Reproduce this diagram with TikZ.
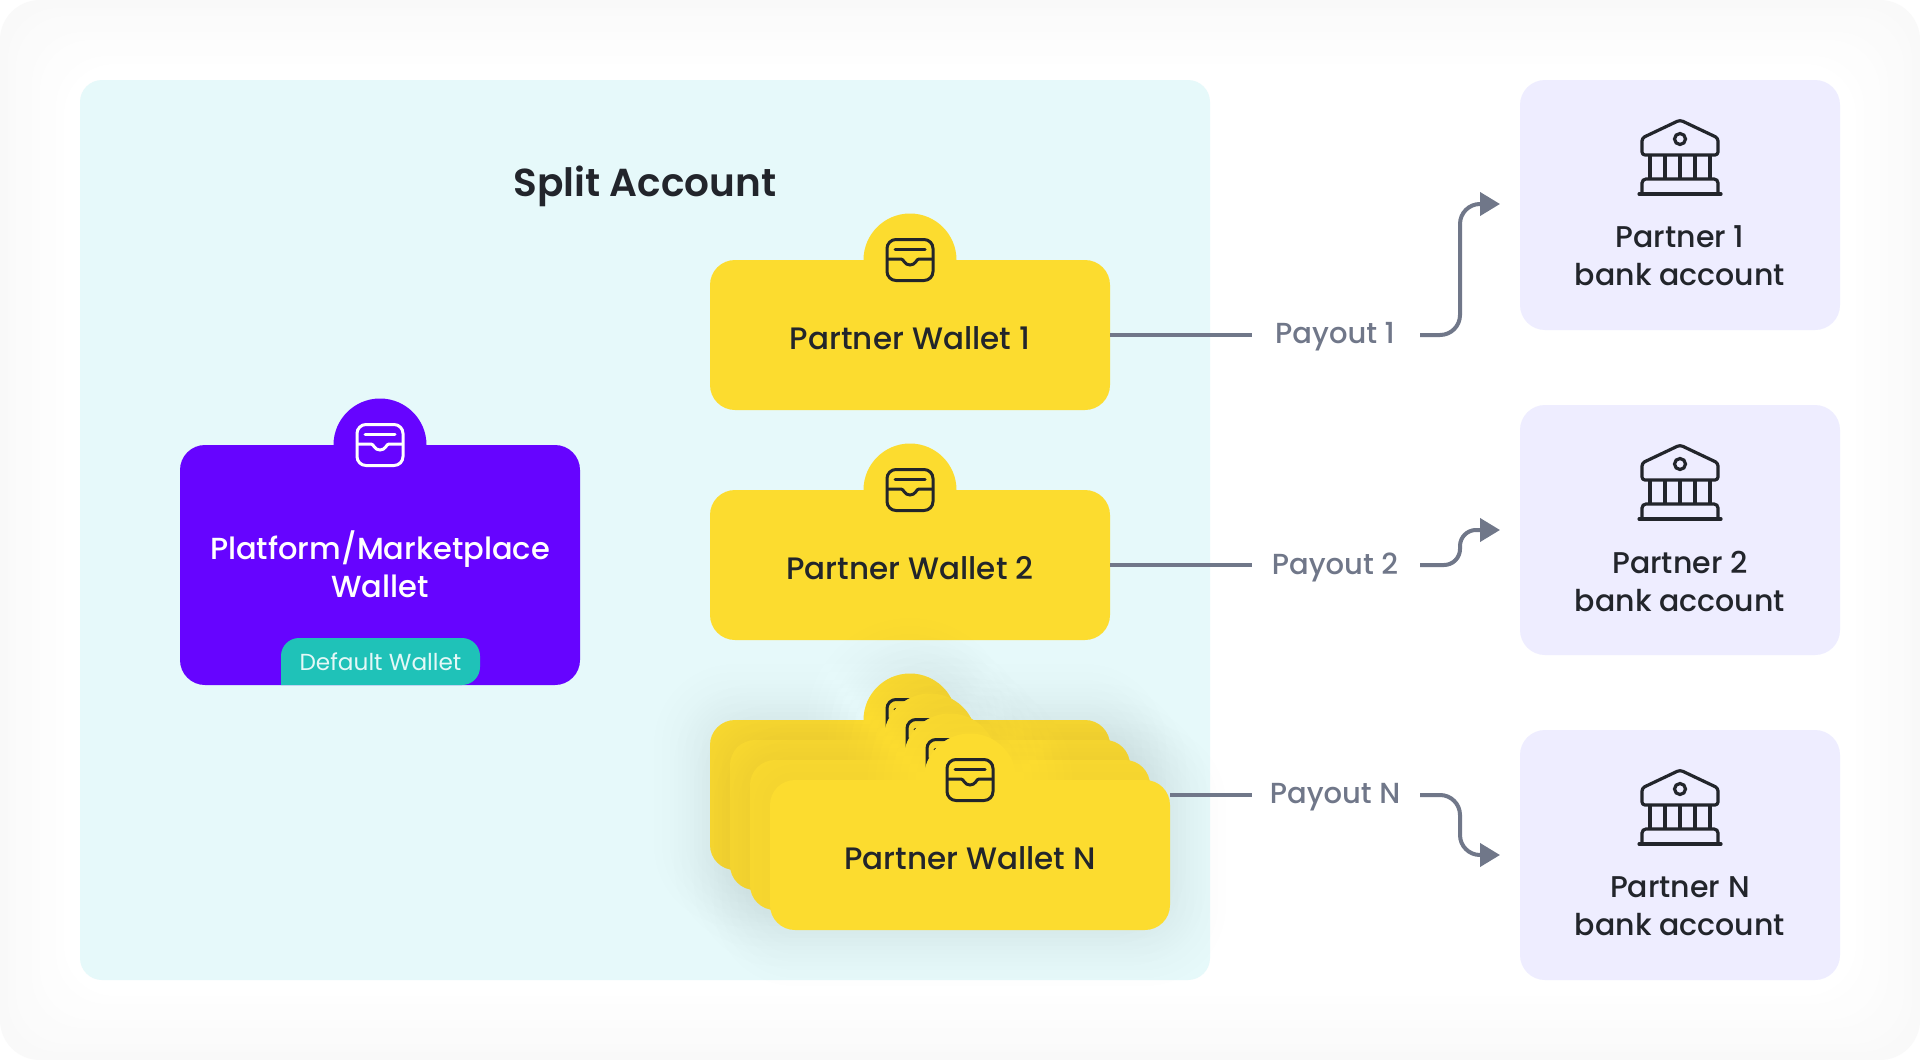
\documentclass[tikz,border=0pt]{standalone}
\usepackage{fontspec}
\setmainfont{Poppins}
\newfontfamily\medfont{Poppins Medium}
\newfontfamily\semifont{Poppins SemiBold}
\usetikzlibrary{positioning,arrows.meta,calc}
\definecolor{inkdark}{HTML}{22252B}
\definecolor{flowgray}{HTML}{707789}
\definecolor{paneltint}{HTML}{E6F9FA}
\definecolor{banktint}{HTML}{EEEDFF}
\definecolor{walletyellow}{HTML}{FCDC2F}
\definecolor{platformviolet}{HTML}{6604FF}
\definecolor{tagteal}{HTML}{1FC2B8}
\definecolor{glowslate}{HTML}{1E3A46}
\tikzset{
x=1pt,
y=-1pt,
wallet/.style={rectangle, rounded corners=25pt, fill=#1, minimum width=400pt, minimum height=150pt, inner sep=0pt},
wallet/.default=walletyellow,
bump/.style={circle, fill=#1, minimum size=93pt, inner sep=0pt},
bump/.default=walletyellow,
bank/.style={rectangle, rounded corners=25pt, fill=banktint, minimum width=320pt, minimum height=250pt},
banktext/.style={text=inkdark, align=center, font=\medfont\fontsize{30}{38}\selectfont},
wallettext/.style={text=inkdark, align=center, font=\medfont\fontsize{31}{38}\selectfont},
payout/.style={text=flowgray, font=\medfont\fontsize{29}{34}\selectfont, minimum width=168pt, inner sep=0pt},
flow/.style={draw=flowgray, line width=4pt},
flowin/.style={flow, -{Triangle[length=20pt,width=23pt]}},
walleticon/.pic={
    \draw[#1, line width=3pt, rounded corners=9pt] (-23,-20.5) rectangle (23,20.5);
    \draw[#1, line width=3pt, line cap=round] (-15,-10.5) -- (15,-10.5);
    \draw[#1, line width=3pt] (-23,-1) -- (-9,-1) .. controls (-6,-1) and (-6,5) .. (0,5) .. controls (6,5) and (6,-1) .. (9,-1) -- (23,-1);
},
bankicon/.pic={
    \draw[inkdark, line width=3.2pt, line join=round, rounded corners=3pt] (-38,-50) -- (-38,-67) -- (0,-85) -- (38,-67) -- (38,-50) -- cycle;
    \draw[inkdark, line width=3.2pt] (0,-66) circle (5.5);
    \foreach \colx in {-30,-15,0,15,30}
        \draw[inkdark, line width=3.2pt] (\colx,-50) -- (\colx,-26);
    \draw[inkdark, line width=3.2pt, rounded corners=4pt] (-38,-11) -- (-38,-26) -- (38,-26) -- (38,-11);
    \draw[inkdark, line width=3.2pt, line cap=round] (-41,-11) -- (41,-11);
},
}
% soft shadow of one wallet in the stack
\newcommand{\walletglow}[2]{
    \foreach \r in {8,16,...,56}
        \fill[glowslate, opacity=0.005, rounded corners=25pt+\r pt]
            (#1-200-\r,#2-75-\r) rectangle (#1+200+\r,#2+75+\r)
            (#1,#2-75) circle (46+\r);
}

\begin{document}
\begin{tikzpicture}
    \useasboundingbox (0,0) rectangle (1920,1060);

    % page background
    \fill[white] (0,0) rectangle (1920,1060);
    \fill[black!2.2, rounded corners=40pt] (0,0) rectangle (1920,1060);
    \foreach \inset/\tone in {8/1.9,16/1.6,24/1.4,32/1.1,40/0.9,48/0.6,56/0.3,64/0}
        \fill[black!\tone, rounded corners=50pt] (\inset,\inset) rectangle (1920-\inset,1060-\inset);

    \node[rectangle, rounded corners=22pt, fill=paneltint, minimum width=1130pt, minimum height=900pt] (split) at (645,530) {};
    \node[text=inkdark, font=\semifont\fontsize{39}{44}\selectfont] (splitlabel) at (645,186) {Split Account};

    % platform wallet
    \node[bump=platformviolet] (platformbump) at (380,445) {};
    \node[wallet=platformviolet, minimum height=240pt] (platform) at (380,565) {};
    \node[text=white, align=center, font=\medfont\fontsize{30.5}{38}\selectfont] (platformlabel) at (380,564) {Platform/Marketplace\\Wallet};
    \pic at (platformbump) {walleticon=white};
    \fill[tagteal, rounded corners=18pt] (281,685) -- (281,638) -- (480,638) -- (480,685) [sharp corners] -- cycle;
    \node[text=white!88!tagteal, font=\fontsize{23.2}{28}\selectfont] (defaulttag) at (380.5,662) {Default Wallet};

    % partner wallets
    \node[bump] (wallet1bump) at (910,260) {};
    \node[wallet] (wallet1) at (910,335) {};
    \node[wallettext] (wallet1label) at (910,338) {Partner Wallet 1};
    \pic at (wallet1bump) {walleticon=inkdark};

    \node[bump] (wallet2bump) at (910,490) {};
    \node[wallet] (wallet2) at (910,565) {};
    \node[wallettext] (wallet2label) at (910,568) {Partner Wallet 2};
    \pic at (wallet2bump) {walleticon=inkdark};

    \foreach \n/\x/\y in {a/910/795, b/930/815, c/950/835, d/970/855} {
        \walletglow{\x}{\y}
        \node[bump] (stack\n bump) at (\x,\y-75) {};
        \node[wallet] (stack\n) at (\x,\y) {};
        \pic at (stack\n bump) {walleticon=inkdark};
    }
    \node[wallettext] (walletNlabel) at (970,858) {Partner Wallet N};
    \coordinate (walletNout) at (1170,795);

    % bank accounts
    \foreach \n/\y/\name in {1/205/Partner 1, 2/530/Partner 2, N/855/Partner N} {
        \node[bank] (bank\n) at (1680,\y) {};
        \pic at (bank\n) {bankicon};
        \node[banktext, yshift=-51pt] (bank\n label) at (bank\n) {\name\\bank account};
    }

    % payouts
    \node[payout] (payout1) at (1335,337) {Payout 1};
    \node[payout] (payout2) at (1335,567) {Payout 2};
    \node[payout] (payoutN) at (1335,797) {Payout N};

    \coordinate (out1) at (1252,335);
    \coordinate (out2) at (1252,565);
    \coordinate (outN) at (1252,795);
    \coordinate (back1) at (1420,335);
    \coordinate (back2) at (1420,565);
    \coordinate (backN) at (1420,795);
    \coordinate (in1) at (1500,204);
    \coordinate (in2) at (1500,530);
    \coordinate (inN) at (1500,855);
    \coordinate (bend1) at (1460,204);
    \coordinate (bend2) at (1460,530);
    \coordinate (bendN) at (1460,855);

    \draw[flow] (wallet1.east |- out1) -- (out1);
    \draw[flow] (wallet2.east |- out2) -- (out2);
    \draw[flow] (walletNout) -- (outN);
    \draw[flowin, rounded corners=20pt] (back1) -| (bend1) -- (in1);
    \draw[flowin, rounded corners=16pt] (back2) -| (bend2) -- (in2);
    \draw[flowin, rounded corners=20pt] (backN) -| (bendN) -- (inN);
\end{tikzpicture}
\end{document}
